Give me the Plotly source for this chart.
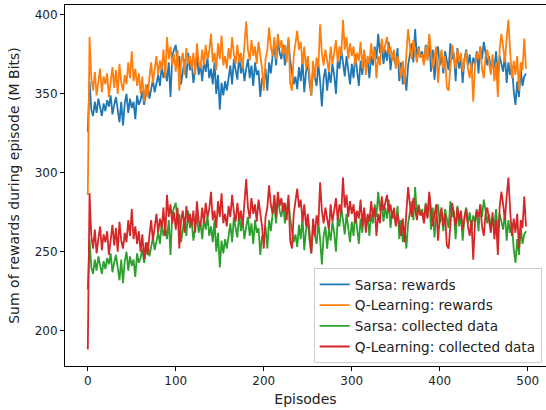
import plotly.graph_objects as go

episodes = list(range(0, 500, 2))

sarsa_rewards = [
    326, 358, 340, 336, 345, 338, 347, 341, 336, 344,
    339, 346, 342, 349, 337, 343, 348, 340, 332, 345,
    330, 344, 350, 338, 347, 341, 345, 334, 349, 343,
    346, 352, 343, 350, 356, 347, 353, 359, 351, 357,
    362, 355, 368, 360, 365, 358, 370, 348, 374, 378,
    381, 368, 374, 356, 366, 372, 360, 376, 365, 370,
    357, 366, 374, 362, 369, 358, 371, 364, 373, 360,
    366, 356, 370, 350, 362, 340, 357, 349, 358, 352,
    361, 368, 356, 372, 365, 359, 375, 363, 369, 358,
    366, 372, 360, 368, 355, 370, 362, 365, 348, 360,
    357, 366, 352, 370, 363, 374, 380, 368, 385, 376,
    372, 381, 368, 377, 384, 371, 362, 356, 361, 353,
    367, 358, 372, 351, 364, 370, 357, 349, 366, 361,
    355, 369, 358, 342, 360, 366, 352, 364, 357, 369,
    362, 350, 371, 366, 378, 370, 361, 374, 365, 356,
    369, 360, 375, 364, 355, 371, 362, 377, 366, 372,
    360, 374, 368, 380, 372, 388, 376, 382, 369, 378,
    371, 383, 365, 376, 372, 368, 379, 358, 370, 356,
    366, 352, 368, 376, 382, 370, 391, 372, 380, 373,
    377, 369, 381, 372, 386, 364, 378, 359, 374, 380,
    368, 375, 363, 377, 370, 365, 382, 372, 376, 358,
    379, 366, 374, 357, 372, 378, 368, 375, 364, 373,
    369, 377, 363, 380, 372, 383, 376, 368, 374, 365,
    372, 366, 377, 360, 374, 368, 364, 375, 357, 370,
    362, 368, 352, 343, 358, 348, 366, 355, 361, 363,
]

qlearning_rewards = [
    286, 386, 360, 352, 364, 349, 358, 366, 351, 361,
    356, 363, 348, 359, 367, 354, 365, 350, 369, 357,
    352, 362, 356, 370, 360, 377, 358, 366, 355, 363,
    350, 361, 345, 356, 348, 360, 370, 357, 366, 374,
    362, 371, 365, 378, 360, 386, 372, 380, 368, 375,
    364, 378, 352, 370, 376, 362, 379, 369, 374, 366,
    376, 362, 382, 370, 366, 378, 368, 381, 372, 377,
    388, 370, 376, 365, 382, 372, 387, 368, 374, 366,
    379, 372, 386, 375, 369, 381, 370, 376, 366, 384,
    396, 378, 371, 384, 374, 380, 369, 383, 375, 366,
    352, 372, 378, 392, 380, 374, 386, 372, 388, 379,
    384, 375, 381, 370, 386, 357, 352, 374, 382, 390,
    378, 383, 369, 380, 366, 374, 362, 349, 371, 360,
    373, 367, 394, 376, 368, 378, 371, 364, 380, 369,
    376, 384, 370, 380, 374, 397, 378, 386, 372, 382,
    374, 380, 368, 376, 371, 383, 366, 378, 362, 374,
    369, 382, 372, 378, 360, 374, 368, 385, 376, 382,
    386, 375, 380, 371, 378, 366, 374, 368, 360, 371,
    356, 375, 391, 380, 372, 384, 376, 370, 379, 373,
    375, 368, 380, 371, 388, 376, 366, 374, 380, 357,
    372, 378, 366, 374, 354, 352, 370, 381, 374, 366,
    378, 370, 376, 364, 371, 377, 366, 360, 370, 345,
    368, 376, 372, 380, 366, 360, 374, 378, 370, 362,
    375, 358, 370, 348, 378, 388, 380, 370, 385, 397,
    376, 360, 371, 362, 374, 352, 370, 365, 385, 366,
]

sarsa_collected = [
    226, 258, 240, 236, 245, 238, 247, 241, 236, 244,
    239, 246, 242, 249, 237, 243, 248, 240, 232, 245,
    230, 244, 250, 238, 247, 241, 245, 234, 249, 243,
    246, 252, 243, 250, 256, 247, 253, 259, 251, 257,
    262, 255, 268, 260, 265, 258, 270, 248, 274, 278,
    281, 268, 274, 256, 266, 272, 260, 276, 265, 270,
    257, 266, 274, 262, 269, 258, 271, 264, 273, 260,
    266, 256, 270, 250, 262, 240, 257, 249, 258, 252,
    261, 268, 256, 272, 265, 259, 275, 263, 269, 258,
    266, 272, 260, 268, 255, 270, 262, 265, 248, 260,
    257, 266, 252, 270, 263, 274, 280, 268, 285, 276,
    272, 281, 268, 277, 284, 271, 262, 256, 261, 253,
    267, 258, 272, 251, 264, 270, 257, 249, 266, 261,
    255, 269, 258, 242, 260, 266, 252, 264, 257, 269,
    262, 250, 271, 266, 278, 270, 261, 274, 265, 256,
    269, 260, 275, 264, 255, 271, 262, 277, 266, 272,
    260, 274, 268, 280, 272, 288, 276, 282, 269, 278,
    271, 283, 265, 276, 272, 268, 279, 258, 270, 256,
    266, 252, 268, 276, 282, 270, 291, 272, 280, 273,
    277, 269, 281, 272, 286, 264, 278, 259, 274, 280,
    268, 275, 263, 277, 270, 265, 282, 272, 276, 258,
    279, 266, 274, 257, 272, 278, 268, 275, 264, 273,
    269, 277, 263, 280, 272, 283, 276, 268, 274, 265,
    272, 266, 277, 260, 274, 268, 264, 275, 257, 270,
    262, 268, 252, 243, 258, 248, 266, 255, 261, 263,
]

qlearning_collected = [
    188, 287, 260, 252, 264, 249, 258, 266, 251, 261,
    256, 263, 248, 259, 267, 254, 265, 250, 269, 257,
    252, 262, 256, 270, 260, 277, 258, 266, 255, 263,
    250, 261, 245, 256, 248, 260, 270, 257, 266, 274,
    262, 271, 265, 278, 260, 286, 272, 280, 268, 275,
    264, 278, 252, 270, 276, 262, 279, 269, 274, 266,
    276, 262, 282, 270, 266, 278, 268, 281, 272, 277,
    288, 270, 276, 265, 282, 272, 287, 268, 274, 266,
    279, 272, 286, 275, 269, 281, 270, 276, 266, 284,
    296, 278, 271, 284, 274, 280, 269, 283, 275, 266,
    252, 272, 278, 292, 280, 274, 286, 272, 288, 279,
    284, 275, 281, 270, 286, 257, 252, 274, 282, 290,
    278, 283, 269, 280, 266, 274, 262, 249, 271, 260,
    273, 267, 294, 276, 268, 278, 271, 264, 280, 269,
    276, 284, 270, 280, 274, 297, 278, 286, 272, 282,
    274, 280, 268, 276, 271, 283, 266, 278, 262, 274,
    269, 282, 272, 278, 260, 274, 268, 285, 276, 282,
    286, 275, 280, 271, 278, 266, 274, 268, 260, 271,
    256, 275, 291, 280, 272, 284, 276, 270, 279, 273,
    275, 268, 280, 271, 288, 276, 266, 274, 280, 257,
    272, 278, 266, 274, 254, 252, 270, 281, 274, 266,
    278, 270, 276, 264, 271, 277, 266, 260, 270, 245,
    268, 276, 272, 280, 266, 260, 274, 278, 270, 262,
    275, 258, 270, 248, 278, 288, 280, 270, 285, 297,
    276, 260, 271, 262, 274, 252, 270, 265, 285, 266,
]

series_names = ["Sarsa: rewards", "Q-Learning: rewards",
                "Sarsa: collected data", "Q-Learning: collected data"]
series_values = [sarsa_rewards, qlearning_rewards, sarsa_collected, qlearning_collected]
series_colors = ["#1f77b4", "#ff7f0e", "#2ca02c", "#d62728"]

x_ticks = [0, 100, 200, 300, 400, 500]
y_ticks = [200, 250, 300, 350, 400]

fig = go.Figure()
for name, vals, col in zip(series_names, series_values, series_colors):
    fig.add_trace(go.Scatter(x=episodes, y=vals, mode="lines", name=name,
                             line=dict(color=col, width=1.8)))

font = dict(family="DejaVu Sans", size=12, color="#222222")
fig.update_layout(
    width=546, height=410,
    margin=dict(l=65, r=0, t=5, b=44),
    plot_bgcolor="white", paper_bgcolor="white",
    font=font,
    showlegend=True,
    legend=dict(x=0.991, y=0.008, xanchor="right", yanchor="bottom",
                bgcolor="rgba(255,255,255,0.8)", bordercolor="#cccccc",
                borderwidth=1, font=dict(family="DejaVu Sans", size=13.6, color="#222222"),
                itemwidth=30),
)
fig.update_xaxes(range=[-25.9, 520.7], tickvals=x_ticks, showgrid=False, zeroline=False,
                 showline=True, linecolor="black", linewidth=1, mirror=True,
                 ticks="outside", ticklen=4, tickcolor="black",
                 title=dict(text="Episodes", standoff=6))
fig.update_yaxes(range=[177.6, 406.3], tickvals=y_ticks, showgrid=False, zeroline=False,
                 showline=True, linecolor="black", linewidth=1, mirror=False,
                 ticks="outside", ticklen=4, tickcolor="black",
                 title=dict(text="Sum of rewards during episode (M Bits)", standoff=11))

fig.write_html("out.html")
